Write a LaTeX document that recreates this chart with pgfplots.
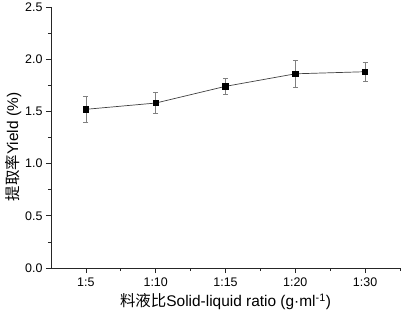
\documentclass[border=0pt]{standalone}
\usepackage{fontspec}
\setmainfont{Liberation Sans}
\newfontfamily\cjk{Noto Sans CJK SC}
\usepackage{pgfplots}
\pgfplotsset{compat=1.18}
\begin{document}
\begin{tikzpicture}
\useasboundingbox (-51bp,-49bp) rectangle (350bp,268bp);
\begin{axis}[
  scale only axis,
  width=349bp, height=261bp,
  xmin=-0.5, xmax=4.5,
  ymin=0, ymax=2.5,
  axis lines=left,
  axis line style={-, black!85, line width=0.7pt},
  tick align=outside,
  xtick={0,1,2,3,4},
  xticklabels={1:5,1:10,1:15,1:20,1:30},
  minor xtick={0.5,1.5,2.5,3.5,4.5},
  ytick={0,0.5,1,1.5,2,2.5},
  minor ytick={0.25,0.75,1.25,1.75,2.25},
  major tick length=5bp,
  minor tick length=3bp,
  every tick/.style={black!85, line width=0.7pt},
  yticklabel style={/pgf/number format/fixed, /pgf/number format/fixed zerofill, /pgf/number format/precision=1},
  /pgf/number format/assume math mode=true,
  every tick label/.append style={font=\fontsize{12.5}{14}\selectfont},
  xticklabel style={yshift=-1bp},
  xlabel={{\cjk 料液比}Solid-liquid ratio (g·ml\textsuperscript{-1})},
  ylabel={{\cjk 提取率}Yield (\%)},
  label style={font=\fontsize{15.5}{17}\selectfont},
  xlabel style={at={(axis description cs:0.5,-0.13)}, anchor=center},
  ylabel style={at={(axis description cs:-0.108,0.464)}, anchor=center},
  clip=false,
]
\addplot[
  color=black!75, line width=0.7pt,
  mark=square*, mark size=2.7bp, mark options={fill=black, draw=black, solid},
  error bars/.cd, y dir=both, y explicit,
  error bar style={gray, line width=0.6pt},
  error mark options={rotate=90, mark size=2.5bp, gray, line width=0.6pt},
] coordinates {
  (0,1.52) +- (0,0.125)
  (1,1.58) +- (0,0.10)
  (2,1.74) +- (0,0.075)
  (3,1.86) +- (0,0.125)
  (4,1.88) +- (0,0.09)
};
\end{axis}
\end{tikzpicture}
\end{document}
